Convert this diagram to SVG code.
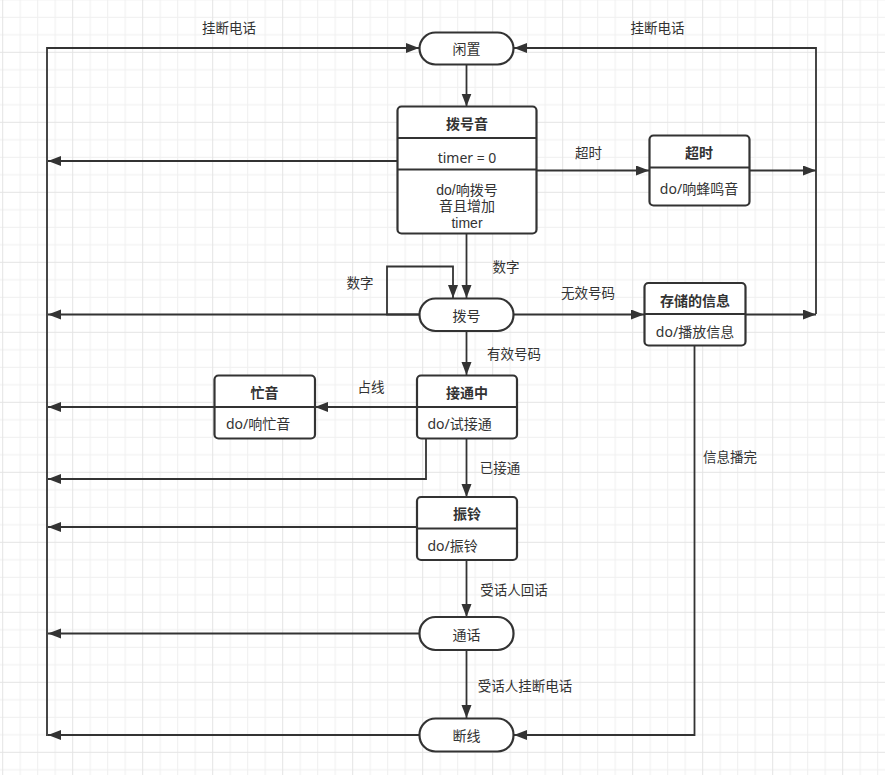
<svg xmlns="http://www.w3.org/2000/svg" width="885" height="775" viewBox="0 0 885 775">
<style>
.n{fill:#fff;stroke:#333;stroke-width:2.2}
.d{stroke:#333;stroke-width:2.2;fill:none}
.e{fill:none;stroke:#333;stroke-width:1.8;marker-end:url(#ah)}
text{font-family:"Noto Sans","Noto Sans CJK SC",sans-serif;font-size:14px;fill:#333;dominant-baseline:central}
.t{font-weight:bold;text-anchor:middle}
.c{text-anchor:middle}
.m{font-family:"Liberation Sans","Noto Sans CJK SC",sans-serif;font-size:14px}
.lb{font-size:13.5px;text-anchor:middle}
</style>
<defs>
<marker id="ah" markerUnits="userSpaceOnUse" markerWidth="14" markerHeight="11" refX="13" refY="5" orient="auto">
<path d="M0,0 L13,5 L0,10 Z" fill="#333"/>
</marker>
<pattern id="grid" patternUnits="userSpaceOnUse" x="2.2" y="51.8" width="70" height="70">
<path d="M18,0V70M35.5,0V70M53,0V70M0,18H70M0,35.5H70M0,53H70" stroke="#efefef" stroke-width="1" fill="none"/>
<path d="M0.5,0V70M0,0.5H70" stroke="#e4e4e4" stroke-width="1" fill="none"/>
</pattern>
</defs>
<rect width="885" height="775" fill="#fff"/>
<rect width="885" height="775" fill="url(#grid)"/>

<g id="connectors">
<path class="e" d="M47,736 V48 H419"/>
<path class="e" d="M816,314 V48 H514"/>
<path class="e" d="M466.5,64 V106.5"/>
<path class="e" d="M397,161 H48"/>
<path class="e" d="M536,170.5 H649"/>
<path class="e" d="M749,170.5 H816"/>
<path class="e" d="M466.5,233 V298"/>
<path class="e" d="M419,314.5 H387 V266.5 H453 V298"/>
<path class="e" d="M419,314.5 H48"/>
<path class="e" d="M513,314.5 H644"/>
<path class="e" d="M745,314.5 H816"/>
<path class="e" d="M694.5,345 V735 H514"/>
<path class="e" d="M466.5,331 V375"/>
<path class="e" d="M417,407 H315"/>
<path class="e" d="M214,407 H48"/>
<path class="e" d="M426,438 V479 H48"/>
<path class="e" d="M466.5,438 V497"/>
<path class="e" d="M417,527 H48"/>
<path class="e" d="M466.5,560 V617"/>
<path class="e" d="M419,633.5 H48"/>
<path class="e" d="M466.5,650 V718"/>
<path class="e" d="M419,735 H48"/>
<text class="lb" x="229" y="27.5">挂断电话</text>
<text class="lb" x="657.5" y="27.5">挂断电话</text>
<text class="lb" x="588.5" y="153">超时</text>
<text class="lb" x="506" y="267">数字</text>
<text class="lb" x="360" y="283">数字</text>
<text class="lb" x="588" y="293">无效号码</text>
<text class="lb" x="514" y="354">有效号码</text>
<text class="lb" x="371" y="386.5">占线</text>
<text class="lb" x="500" y="468">已接通</text>
<text class="lb" x="730" y="456.5">信息播完</text>
<text class="lb" x="514" y="590">受话人回话</text>
<text class="lb" x="525" y="685.5">受话人挂断电话</text>
</g>

<g id="idle">
<rect class="n" x="419.5" y="32.5" width="94" height="32" rx="16"/>
<text class="c" x="466.5" y="48.5">闲置</text>
</g>

<g id="dialtone">
<rect class="n" x="397.5" y="106.5" width="139" height="127" rx="4"/>
<path class="d" d="M397.5,138H536.5M397.5,169.5H536.5"/>
<text class="t" x="467" y="123.5">拨号音</text>
<text class="c" x="467" y="157">timer = 0</text>
<text class="c m" x="467" y="189.5"><tspan x="467">do/响拨号</tspan><tspan x="467" dy="16.7">音且增加</tspan><tspan x="467" dy="16.5">timer</tspan></text>
</g>

<g id="timeout">
<rect class="n" x="649.5" y="135.5" width="100" height="70" rx="4"/>
<path class="d" d="M649.5,167.5H749.5"/>
<text class="t" x="699" y="152.5">超时</text>
<text class="c" x="699" y="188">do/响蜂鸣音</text>
</g>

<g id="dialing">
<rect class="n" x="419.5" y="298.5" width="94" height="32.5" rx="16"/>
<text class="c" x="466.5" y="315">拨号</text>
</g>

<g id="stored">
<rect class="n" x="644.5" y="283" width="101" height="62.5" rx="4"/>
<path class="d" d="M644.5,314H745.5"/>
<text class="t" x="695" y="300">存储的信息</text>
<text class="c" x="695" y="331.5">do/播放信息</text>
</g>

<g id="busy">
<rect class="n" x="214.5" y="375.5" width="100.5" height="63" rx="4"/>
<path class="d" d="M214.5,407H315"/>
<text class="t" x="264.5" y="392.5">忙音</text>
<text x="226" y="423.5">do/响忙音</text>
</g>

<g id="connecting">
<rect class="n" x="417" y="375.5" width="100" height="63" rx="4"/>
<path class="d" d="M417,407H517"/>
<text class="t" x="467" y="392.5">接通中</text>
<text x="427.5" y="423.5">do/试接通</text>
</g>

<g id="ringing">
<rect class="n" x="417" y="497" width="100" height="63" rx="4"/>
<path class="d" d="M417,528.5H517"/>
<text class="t" x="467" y="513.5">振铃</text>
<text x="427.5" y="545">do/振铃</text>
</g>

<g id="talking">
<rect class="n" x="419.5" y="617" width="94" height="33" rx="16"/>
<text class="c" x="466.5" y="634">通话</text>
</g>

<g id="disconnected">
<rect class="n" x="419.5" y="718.5" width="94" height="33" rx="16"/>
<text class="c" x="466.5" y="735.5">断线</text>
</g>
</svg>
